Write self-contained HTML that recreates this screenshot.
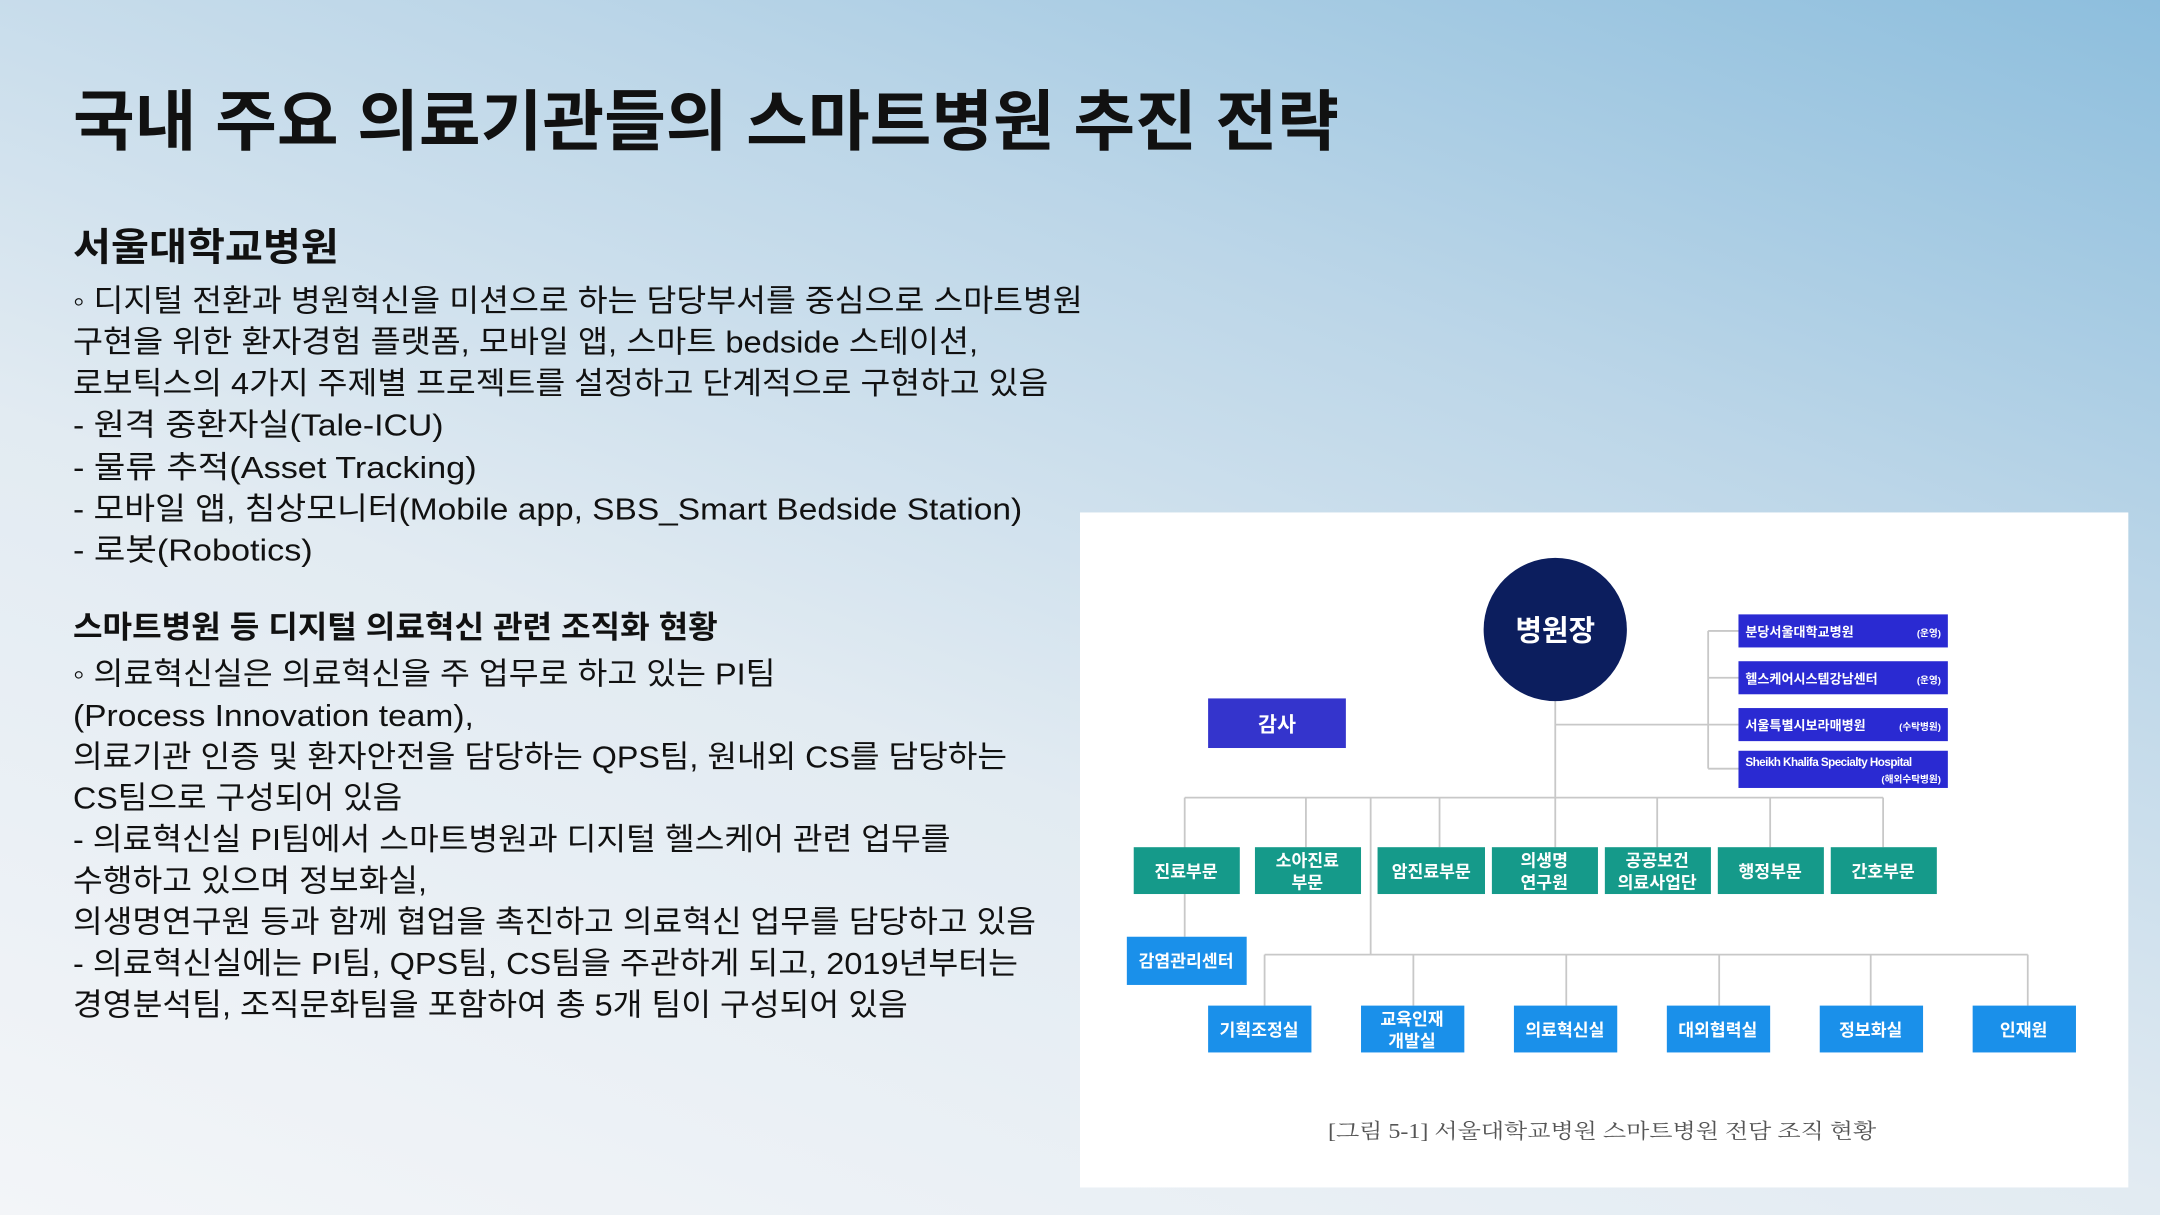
<!DOCTYPE html>
<html><head><meta charset="utf-8">
<style>
html,body{margin:0;padding:0;}
body{width:2160px;height:1215px;overflow:hidden;background:linear-gradient(200deg,#8dbedd 0%,#bcd6e8 30%,#e2ebf2 60%,#f3f5f8 100%);}
svg{display:block;}
text{font-family:"Liberation Sans","Noto Sans CJK KR",sans-serif;}
</style></head><body>
<svg width="2160" height="1215" viewBox="0 0 1568 882" xmlns="http://www.w3.org/2000/svg">
<g fill="#111">
<text x="53" y="105" font-size="48" font-weight="bold" textLength="919" lengthAdjust="spacingAndGlyphs">국내 주요 의료기관들의 스마트병원 추진 전략</text>
<text x="53" y="189" font-size="28" font-weight="bold" textLength="193" lengthAdjust="spacingAndGlyphs">서울대학교병원</text>
<g font-size="22.5">
<text x="53" y="226" textLength="733" lengthAdjust="spacingAndGlyphs">◦ 디지털 전환과 병원혁신을 미션으로 하는 담당부서를 중심으로 스마트병원</text>
<text x="53" y="256" textLength="657" lengthAdjust="spacingAndGlyphs">구현을 위한 환자경험 플랫폼, 모바일 앱, 스마트 bedside 스테이션,</text>
<text x="53" y="286" textLength="708" lengthAdjust="spacingAndGlyphs">로보틱스의 4가지 주제별 프로젝트를 설정하고 단계적으로 구현하고 있음</text>
<text x="53" y="316" textLength="269" lengthAdjust="spacingAndGlyphs">- 원격 중환자실(Tale-ICU)</text>
<text x="53" y="347" textLength="293" lengthAdjust="spacingAndGlyphs">- 물류 추적(Asset Tracking)</text>
<text x="53" y="377" textLength="689" lengthAdjust="spacingAndGlyphs">- 모바일 앱, 침상모니터(Mobile app, SBS_Smart Bedside Station)</text>
<text x="53" y="407" textLength="174" lengthAdjust="spacingAndGlyphs">- 로봇(Robotics)</text>
</g>
<text x="53" y="463" font-size="22.5" font-weight="bold" textLength="468" lengthAdjust="spacingAndGlyphs">스마트병원 등 디지털 의료혁신 관련 조직화 현황</text>
<g font-size="22.5">
<text x="53" y="497" textLength="510" lengthAdjust="spacingAndGlyphs">◦ 의료혁신실은 의료혁신을 주 업무로 하고 있는 PI팀</text>
<text x="53" y="527" textLength="291" lengthAdjust="spacingAndGlyphs">(Process Innovation team),</text>
<text x="53" y="557" textLength="678" lengthAdjust="spacingAndGlyphs">의료기관 인증 및 환자안전을 담당하는 QPS팀, 원내외 CS를 담당하는</text>
<text x="53" y="587" textLength="239" lengthAdjust="spacingAndGlyphs">CS팀으로 구성되어 있음</text>
<text x="53" y="617" textLength="637" lengthAdjust="spacingAndGlyphs">- 의료혁신실 PI팀에서 스마트병원과 디지털 헬스케어 관련 업무를</text>
<text x="53" y="647" textLength="257" lengthAdjust="spacingAndGlyphs">수행하고 있으며 정보화실,</text>
<text x="53" y="677" textLength="699" lengthAdjust="spacingAndGlyphs">의생명연구원 등과 함께 협업을 촉진하고 의료혁신 업무를 담당하고 있음</text>
<text x="53" y="707" textLength="686" lengthAdjust="spacingAndGlyphs">- 의료혁신실에는 PI팀, QPS팀, CS팀을 주관하게 되고, 2019년부터는</text>
<text x="53" y="737" textLength="606" lengthAdjust="spacingAndGlyphs">경영분석팀, 조직문화팀을 포함하여 총 5개 팀이 구성되어 있음</text>
</g>
</g>

<rect x="784" y="372" width="761" height="490" fill="#fff"/>

<g stroke="#c8c8c8" stroke-width="1.3" fill="none">
<line x1="1129" y1="500" x2="1129" y2="615"/>
<line x1="1129" y1="526" x2="1240" y2="526"/>
<line x1="1240" y1="458" x2="1240" y2="558"/>
<line x1="1240" y1="458" x2="1262" y2="458"/>
<line x1="1240" y1="492" x2="1262" y2="492"/>
<line x1="1240" y1="526" x2="1262" y2="526"/>
<line x1="1240" y1="558" x2="1262" y2="558"/>
<line x1="860" y1="579" x2="1367" y2="579"/>
<line x1="860" y1="579" x2="860" y2="680"/>
<line x1="948" y1="579" x2="948" y2="615"/>
<line x1="995" y1="579" x2="995" y2="693"/>
<line x1="1045" y1="579" x2="1045" y2="615"/>
<line x1="1203" y1="579" x2="1203" y2="615"/>
<line x1="1285" y1="579" x2="1285" y2="615"/>
<line x1="1367" y1="579" x2="1367" y2="615"/>
<line x1="918" y1="693" x2="1472" y2="693"/>
<line x1="918" y1="693" x2="918" y2="730"/>
<line x1="1026" y1="693" x2="1026" y2="730"/>
<line x1="1137" y1="693" x2="1137" y2="730"/>
<line x1="1248" y1="693" x2="1248" y2="730"/>
<line x1="1358" y1="693" x2="1358" y2="730"/>
<line x1="1472" y1="693" x2="1472" y2="730"/>
</g>

<circle cx="1129" cy="457" r="52" fill="#0c1e5e"/>
<text x="1129" y="465" font-size="21" font-weight="bold" fill="#fff" text-anchor="middle">병원장</text>

<rect x="877" y="507" width="100" height="36" fill="#3434cc"/>
<text x="927" y="531" font-size="15" font-weight="bold" fill="#fff" text-anchor="middle">감사</text>

<g fill="#2a2ad2">
<rect x="1262" y="446" width="152" height="24"/>
<rect x="1262" y="480" width="152" height="24"/>
<rect x="1262" y="514" width="152" height="24"/>
<rect x="1262" y="545" width="152" height="27"/>
</g>
<g fill="#fff" font-weight="bold">
<text x="1267" y="462" font-size="9.5">분당서울대학교병원</text><text x="1409" y="462" font-size="7" text-anchor="end">(운영)</text>
<text x="1267" y="496" font-size="9.5">헬스케어시스템강남센터</text><text x="1409" y="496" font-size="7" text-anchor="end">(운영)</text>
<text x="1267" y="530" font-size="9.5">서울특별시보라매병원</text><text x="1409" y="530" font-size="7" text-anchor="end">(수탁병원)</text>
<text x="1267" y="556" font-size="8.5" letter-spacing="-0.4">Sheikh Khalifa Specialty Hospital</text><text x="1409" y="568" font-size="7" text-anchor="end">(해외수탁병원)</text>
</g>

<g fill="#159a8a">
<rect x="823" y="615" width="77" height="34"/>
<rect x="911" y="615" width="77" height="34"/>
<rect x="1000" y="615" width="78" height="34"/>
<rect x="1083" y="615" width="77" height="34"/>
<rect x="1165" y="615" width="77" height="34"/>
<rect x="1247" y="615" width="77" height="34"/>
<rect x="1329" y="615" width="77" height="34"/>
</g>
<g fill="#fff" font-size="12.5" font-weight="bold" text-anchor="middle">
<text x="861" y="637">진료부문</text>
<text x="949" y="629">소아진료</text><text x="949" y="645">부문</text>
<text x="1039" y="637">암진료부문</text>
<text x="1121" y="629">의생명</text><text x="1121" y="645">연구원</text>
<text x="1203" y="629">공공보건</text><text x="1203" y="645">의료사업단</text>
<text x="1285" y="637">행정부문</text>
<text x="1367" y="637">간호부문</text>
</g>

<g fill="#1a90ea">
<rect x="818" y="680" width="87" height="35"/>
<rect x="877" y="730" width="75" height="34"/>
<rect x="988" y="730" width="75" height="34"/>
<rect x="1099" y="730" width="75" height="34"/>
<rect x="1210" y="730" width="75" height="34"/>
<rect x="1321" y="730" width="75" height="34"/>
<rect x="1432" y="730" width="75" height="34"/>
</g>
<g fill="#fff" font-size="12.5" font-weight="bold" text-anchor="middle">
<text x="861" y="702">감염관리센터</text>
<text x="914" y="752">기획조정실</text>
<text x="1025" y="744">교육인재</text><text x="1025" y="760">개발실</text>
<text x="1136" y="752">의료혁신실</text>
<text x="1247" y="752">대외협력실</text>
<text x="1358" y="752">정보화실</text>
<text x="1469" y="752">인재원</text>
</g>

<text x="964" y="826" font-size="15" fill="#555" textLength="398" lengthAdjust="spacingAndGlyphs" style="font-family:'Liberation Serif','Noto Serif CJK SC',serif">[그림 5-1] 서울대학교병원 스마트병원 전담 조직 현황</text>
</svg>
</body></html>
